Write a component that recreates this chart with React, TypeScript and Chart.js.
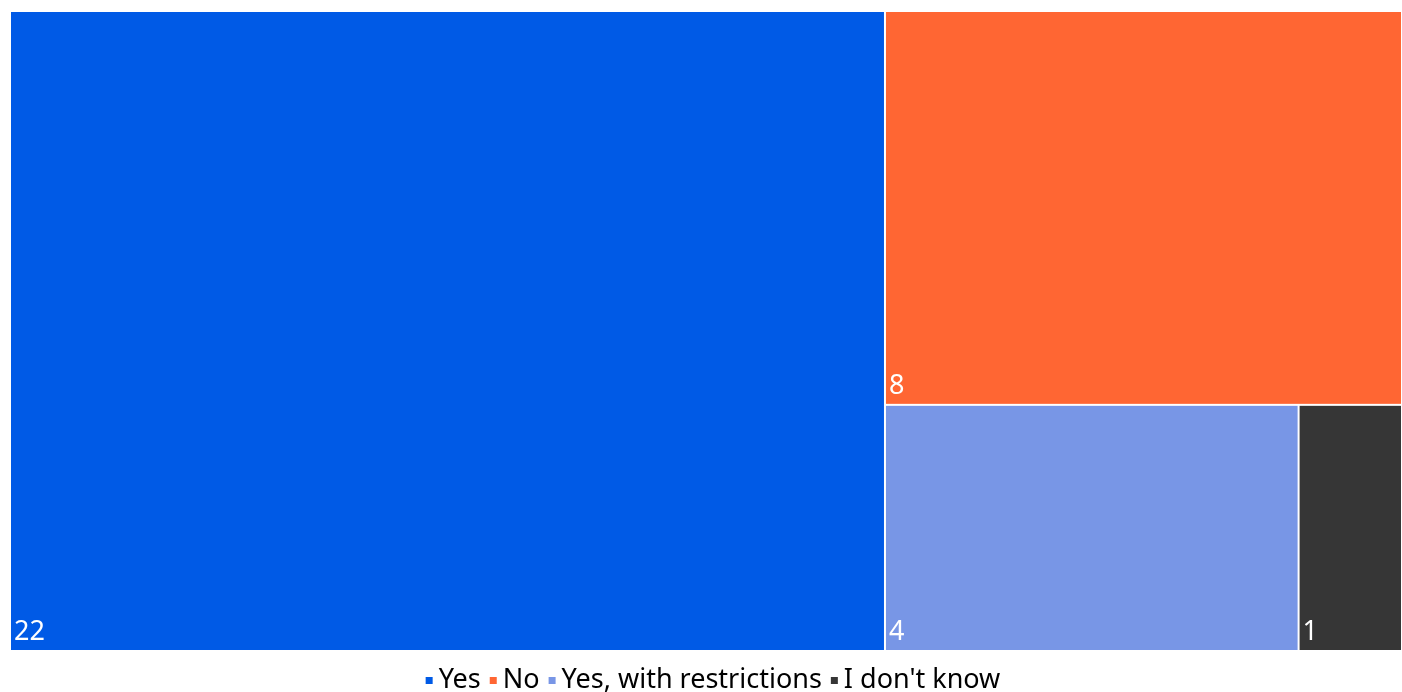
import React, { useEffect, useRef } from "react";
import { Chart, registerables } from "chart.js";

Chart.register(...registerables);

const categories = ["Yes", "No", "Yes, with restrictions", "I don't know"];
const values = [22, 8, 4, 1];
const colors = ["#005AE6", "#FF6633", "#7896E6", "#363636"];

const FONT = '"Noto Sans", sans-serif';

type R = { x0: number; x1: number; y0: number; y1: number };

function layoutTreemap(chart: any): R[] {
  const xs = chart.scales.x;
  const ys = chart.scales.y;
  const total = values.reduce((a, b) => a + b, 0);
  let x0 = 0, x1 = total, y0 = 0, y1 = 1;
  let remaining = total;
  return values.map((v) => {
    const share = v / remaining;
    remaining -= v;
    const wPx = Math.abs(xs.getPixelForValue(x1) - xs.getPixelForValue(x0));
    const hPx = Math.abs(ys.getPixelForValue(y1) - ys.getPixelForValue(y0));
    let r: R;
    if (wPx >= hPx) {
      const xm = x0 + share * (x1 - x0);
      r = { x0, x1: xm, y0, y1 };
      x0 = xm;
    } else {
      const ym = y0 + share * (y1 - y0);
      r = { x0, x1, y0, y1: ym };
      y0 = ym;
    }
    return r;
  });
}

const treemapPlugin = {
  id: "treemapDraw",
  beforeDatasetsDraw(chart: any) {
    const ctx = chart.ctx;
    const xs = chart.scales.x;
    const ys = chart.scales.y;
    const rects = layoutTreemap(chart);
    ctx.save();
    rects.forEach((r, i) => {
      const l = xs.getPixelForValue(r.x0);
      const rt = xs.getPixelForValue(r.x1);
      const t = ys.getPixelForValue(r.y0);
      const b = ys.getPixelForValue(r.y1);
      ctx.fillStyle = colors[i];
      ctx.fillRect(l + 1, t + 1, rt - l - 2, b - t - 2);
      ctx.fillStyle = "#ffffff";
      ctx.font = `27px ${FONT}`;
      ctx.textAlign = "left";
      ctx.textBaseline = "alphabetic";
      ctx.fillText(String(values[i]), l + 4, b - 11);
    });
    ctx.restore();
  },
};

const legendPlugin = {
  id: "customLegend",
  afterDraw(chart: any) {
    const ctx = chart.ctx;
    ctx.save();
    ctx.font = `27px ${FONT}`;
    const box = 7;
    const gapText = 6;
    const gapItem = 9;
    const widths = categories.map((c) => ctx.measureText(c).width);
    const total =
      widths.reduce((a, b) => a + b, 0) + categories.length * (box + gapText) + (categories.length - 1) * gapItem;
    const ca = chart.chartArea;
    let x = (ca.left + ca.right) / 2 + 7 - total / 2;
    const baseline = chart.height - 4;
    categories.forEach((c, i) => {
      ctx.fillStyle = colors[i];
      ctx.fillRect(x, baseline - 11, box, box);
      x += box + gapText;
      ctx.fillStyle = "#000000";
      ctx.textAlign = "left";
      ctx.textBaseline = "alphabetic";
      ctx.fillText(c, x, baseline);
      x += widths[i] + gapItem;
    });
    ctx.restore();
  },
};

export default function App() {
  const ref = useRef<HTMLCanvasElement>(null);
  useEffect(() => {
    if (!ref.current) return;
    const total = values.reduce((a, b) => a + b, 0);
    const chart = new Chart(ref.current, {
      type: "scatter",
      data: {
        datasets: categories.map((c, i) => ({
          label: c,
          data: [],
          backgroundColor: colors[i],
          borderWidth: 0,
        })),
      },
      options: {
        animation: false,
        responsive: false,
        maintainAspectRatio: false,
        layout: { padding: { left: 10, top: 11, right: 0, bottom: 41 } },
        plugins: {
          legend: { display: false },
          tooltip: { enabled: false },
        },
        scales: {
          x: { type: "linear", min: 0, max: total, display: false },
          y: { type: "linear", min: 0, max: 1, reverse: true, display: false },
        },
      },
      plugins: [treemapPlugin, legendPlugin],
    });
    return () => chart.destroy();
  }, []);
  return (
    <div style={{ position: "absolute", left: 0, top: 0, width: 1402, height: 692, background: "#fff" }}>
      <canvas ref={ref} width={1402} height={692} style={{ width: 1402, height: 692, display: "block" }} />
    </div>
  );
}
